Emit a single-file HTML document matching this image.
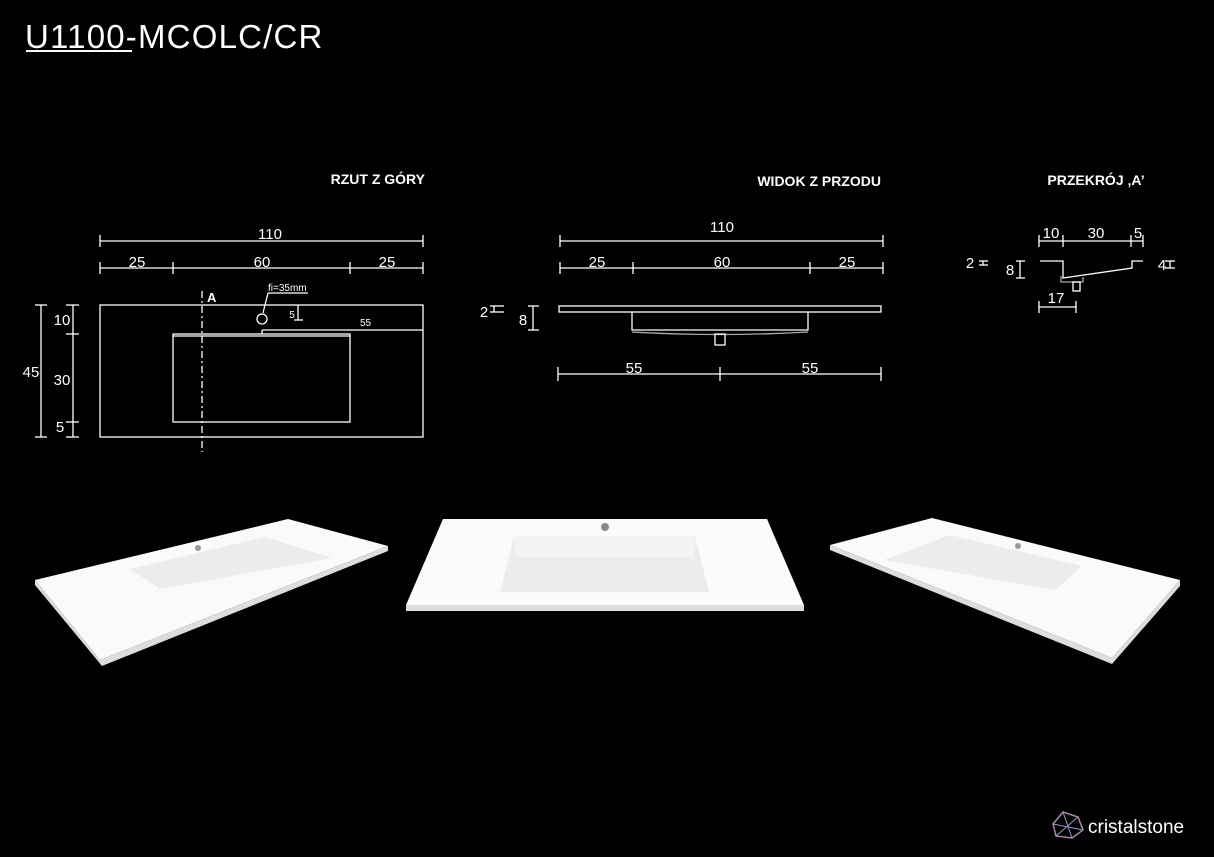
<!DOCTYPE html>
<html><head><meta charset="utf-8"><style>
html,body{margin:0;padding:0;background:#000;}
svg{display:block}
text{font-family:"Liberation Sans",sans-serif;fill:#fff}
</style></head><body>
<svg width="1214" height="857" viewBox="0 0 1214 857" xmlns="http://www.w3.org/2000/svg">
<rect width="1214" height="857" fill="#000"/>
<text x="25" y="48" font-size="33" letter-spacing="1.2">U1100-MCOLC/CR</text>
<line x1="26" y1="51" x2="132" y2="51" stroke="#fff" stroke-width="2"/>
<g font-size="14" font-weight="bold">
<text x="425" y="184" text-anchor="end">RZUT Z GÓRY</text>
<text x="881" y="186" text-anchor="end">WIDOK Z PRZODU</text>
<text x="1096" y="185" text-anchor="middle">PRZEKRÓJ ‚A’</text>
</g>
<g stroke="#fff" stroke-width="1.3" fill="none">
<line x1="100" y1="241" x2="423" y2="241"/><line x1="100" y1="235" x2="100" y2="247"/><line x1="423" y1="235" x2="423" y2="247"/>
<line x1="100" y1="268" x2="423" y2="268"/>
<line x1="100" y1="262" x2="100" y2="274"/><line x1="173" y1="262" x2="173" y2="274"/><line x1="350" y1="262" x2="350" y2="274"/><line x1="423" y1="262" x2="423" y2="274"/>
<rect x="100" y="305" width="323" height="132"/>
<rect x="173" y="334" width="177" height="88"/><line x1="173" y1="336" x2="350" y2="336"/>
<line x1="202" y1="291" x2="202" y2="452" stroke-dasharray="7,3,2,3"/>
<circle cx="262" cy="319" r="5"/>
<line x1="262" y1="334" x2="262" y2="330"/><line x1="262" y1="330" x2="423" y2="330"/>
<line x1="298" y1="305" x2="298" y2="320"/><line x1="294" y1="320" x2="303" y2="320"/>
<line x1="268" y1="293" x2="308" y2="293"/><line x1="268" y1="293" x2="263" y2="313"/>
<line x1="41" y1="305" x2="41" y2="437"/><line x1="35" y1="305" x2="47" y2="305"/><line x1="35" y1="437" x2="47" y2="437"/>
<line x1="73" y1="305" x2="73" y2="437"/>
<line x1="66" y1="305" x2="79" y2="305"/><line x1="66" y1="334" x2="79" y2="334"/><line x1="66" y1="422" x2="79" y2="422"/><line x1="66" y1="437" x2="79" y2="437"/>
<line x1="560" y1="241" x2="883" y2="241"/><line x1="560" y1="235" x2="560" y2="247"/><line x1="883" y1="235" x2="883" y2="247"/>
<line x1="560" y1="268" x2="883" y2="268"/>
<line x1="560" y1="262" x2="560" y2="274"/><line x1="633" y1="262" x2="633" y2="274"/><line x1="810" y1="262" x2="810" y2="274"/><line x1="883" y1="262" x2="883" y2="274"/>
<rect x="559" y="306" width="322" height="6"/>
<polyline points="632,312 632,330 808,330 808,312"/>
<path d="M632,332 Q720,337 808,332" stroke="#aaa"/>
<rect x="715" y="334" width="10" height="11"/>
<line x1="494" y1="306" x2="494" y2="312"/><line x1="490" y1="306" x2="504" y2="306"/><line x1="490" y1="312" x2="504" y2="312"/>
<line x1="533" y1="306" x2="533" y2="330"/><line x1="528" y1="306" x2="539" y2="306"/><line x1="528" y1="330" x2="539" y2="330"/>
<line x1="558" y1="374" x2="881" y2="374"/><line x1="558" y1="367" x2="558" y2="381"/><line x1="720" y1="367" x2="720" y2="381"/><line x1="881" y1="367" x2="881" y2="381"/>
<line x1="1039" y1="241" x2="1143" y2="241"/>
<line x1="1039" y1="235" x2="1039" y2="247"/><line x1="1063" y1="235" x2="1063" y2="247"/><line x1="1131" y1="235" x2="1131" y2="247"/><line x1="1143" y1="235" x2="1143" y2="247"/>
<polyline points="1040,261 1063,261 1063,278 1132,268 1132,261 1143,261"/>
<polyline points="1061,276 1061,282 1083,282 1083,277" stroke="#aaa"/>
<rect x="1073" y="282" width="7" height="9"/>
<line x1="1039" y1="307" x2="1076" y2="307"/><line x1="1039" y1="301" x2="1039" y2="313"/><line x1="1076" y1="301" x2="1076" y2="313"/>
<line x1="983" y1="261" x2="983" y2="265"/><line x1="979" y1="261" x2="988" y2="261"/><line x1="979" y1="265" x2="988" y2="265"/>
<line x1="1020" y1="261" x2="1020" y2="278"/><line x1="1016" y1="261" x2="1025" y2="261"/><line x1="1016" y1="278" x2="1025" y2="278"/>
<line x1="1170" y1="261" x2="1170" y2="268"/><line x1="1165" y1="261" x2="1175" y2="261"/><line x1="1165" y1="268" x2="1175" y2="268"/>
</g>
<g font-size="15" text-anchor="middle">
<text x="270" y="239">110</text><text x="137" y="267">25</text><text x="262" y="267">60</text><text x="387" y="267">25</text>
<text x="31" y="377">45</text><text x="62" y="325">10</text><text x="62" y="385">30</text><text x="60" y="432">5</text>
<text x="722" y="232">110</text><text x="597" y="267">25</text><text x="722" y="267">60</text><text x="847" y="267">25</text>
<text x="484" y="317">2</text><text x="523" y="325">8</text>
<text x="634" y="373">55</text><text x="810" y="373">55</text>
<text x="1051" y="238">10</text><text x="1096" y="238">30</text><text x="1138" y="238">5</text>
<text x="1056" y="303">17</text><text x="970" y="268">2</text><text x="1010" y="275">8</text><text x="1162" y="270">4</text>
</g>
<text x="207" y="302" font-size="13" font-weight="bold">A</text>
<text x="268" y="291" font-size="10">fi=35mm</text>
<text x="292" y="318" font-size="10" text-anchor="middle">5</text>
<text x="360" y="326" font-size="10">55</text>
<polygon points="35,580 288,519 388,546 100,660" fill="#fafafa"/>
<polygon points="100,660 388,546 388,551 102,666 35,585 35,580" fill="#ddd"/>
<polygon points="130,569 265,537 332,558 160,589" fill="#ececec"/>
<circle cx="198" cy="548" r="3" fill="#999"/>
<polygon points="443,519 767,519 804,605 406,605" fill="#fbfbfb"/>
<rect x="406" y="605" width="398" height="6" fill="#ddd"/>
<polygon points="514,536 695,536 709,592 500,592" fill="#ececec"/>
<polygon points="514,536 695,536 694,557 516,557" fill="#f4f4f4"/>
<circle cx="605" cy="527" r="4" fill="#888"/>
<polygon points="830,545 932,518 1180,580 1112,658" fill="#fafafa"/>
<polygon points="830,545 1112,658 1180,580 1180,586 1112,664 830,550" fill="#ddd"/>
<polygon points="884,560 950,535 1082,566 1055,590" fill="#ececec"/>
<circle cx="1018" cy="546" r="3" fill="#999"/>
<polygon points="1063,812 1078,817 1083,830 1072,838 1056,836 1053,824" fill="none" stroke="#a8a" stroke-width="1.5"/>
<path d="M1063,812 L1072,838 M1053,824 L1083,830 M1078,817 L1056,836" stroke="#99c" stroke-width="1"/>
<text x="1088" y="833" font-size="19">cristalstone</text>
</svg>
</body></html>
